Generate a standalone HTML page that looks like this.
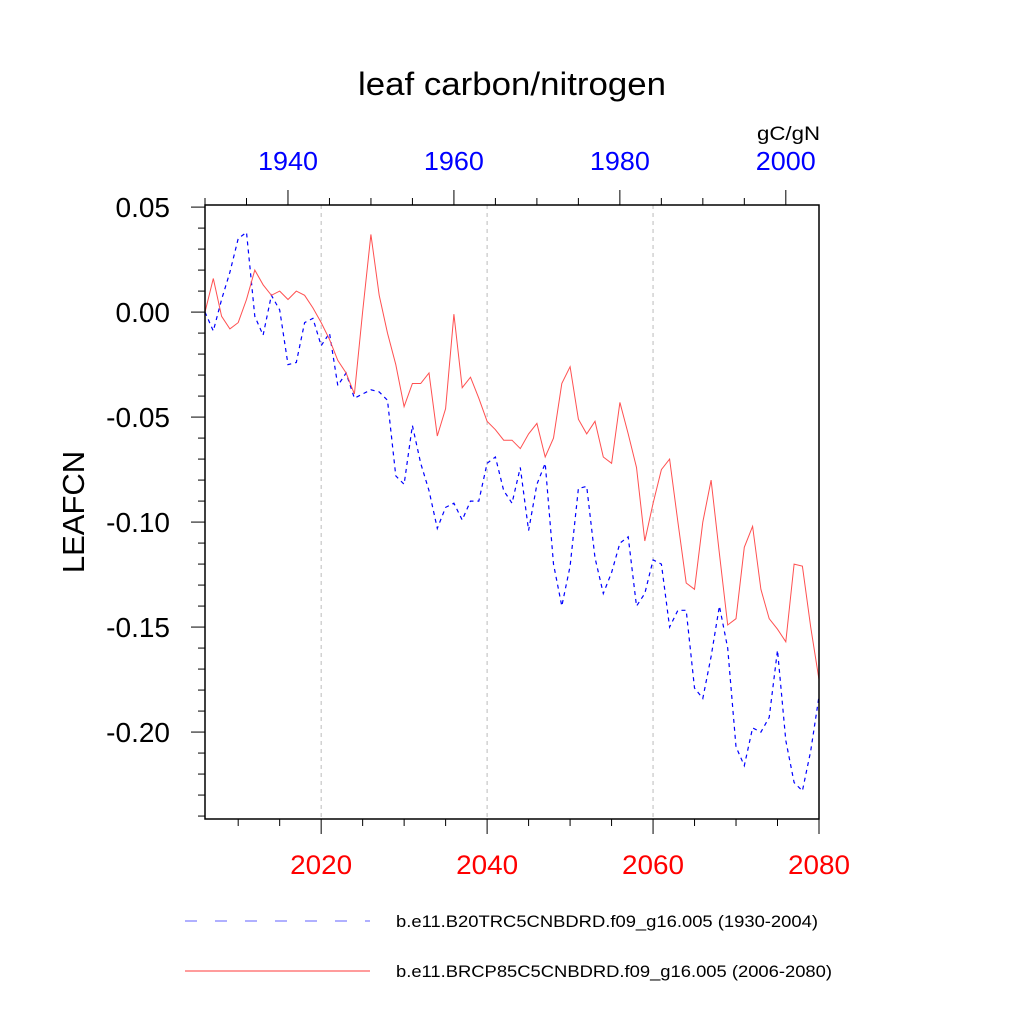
<!DOCTYPE html>
<html><head><meta charset="utf-8"><style>
html,body{margin:0;padding:0;background:#fff;}
svg{display:block;font-family:"Liberation Sans",sans-serif;}
</style></head><body>
<svg id="chart" width="1024" height="1024" viewBox="0 0 1024 1024">
<text x="512" y="95" font-size="32" text-anchor="middle" textLength="308" lengthAdjust="spacingAndGlyphs">leaf carbon/nitrogen</text>
<text x="820" y="140" font-size="19" text-anchor="end" textLength="63" lengthAdjust="spacingAndGlyphs">gC/gN</text>
<text transform="translate(84,512) rotate(-90)" font-size="31" text-anchor="middle">LEAFCN</text>
<g id="grid"></g>
<g id="series"></g>
<rect x="205" y="205" width="614" height="614" fill="none" stroke="#000" stroke-width="1.5"/>
<g id="axes"></g>
<g>
<line x1="185" y1="921" x2="370" y2="921" stroke="#8080ff" stroke-width="1.2" stroke-dasharray="12,18"/>
<text x="396" y="927" font-size="17" textLength="422" lengthAdjust="spacingAndGlyphs">b.e11.B20TRC5CNBDRD.f09_g16.005 (1930-2004)</text>
<line x1="185" y1="971" x2="370" y2="971" stroke="#ff6060" stroke-width="1.2"/>
<text x="396" y="977" font-size="17" textLength="436" lengthAdjust="spacingAndGlyphs">b.e11.BRCP85C5CNBDRD.f09_g16.005 (2006-2080)</text>
</g>
</svg>
<script>
const rcpYearStart = 2006;
const histYearStart = 1930;
const rcpValues = [0.000,0.016,-0.002,-0.008,-0.005,0.006,0.020,0.013,0.008,0.010,0.006,0.010,0.008,0.002,-0.005,-0.013,-0.023,-0.029,-0.039,0.000,0.037,0.008,-0.010,-0.025,-0.045,-0.034,-0.034,-0.029,-0.059,-0.046,-0.001,-0.036,-0.031,-0.041,-0.052,-0.056,-0.061,-0.061,-0.065,-0.058,-0.053,-0.069,-0.060,-0.034,-0.026,-0.051,-0.058,-0.052,-0.069,-0.072,-0.043,-0.058,-0.074,-0.109,-0.091,-0.075,-0.070,-0.100,-0.129,-0.132,-0.100,-0.080,-0.115,-0.149,-0.146,-0.112,-0.102,-0.132,-0.146,-0.151,-0.157,-0.120,-0.121,-0.150,-0.175];
const histValues = [0.000,-0.009,0.006,0.019,0.035,0.038,-0.002,-0.011,0.008,0.001,-0.025,-0.024,-0.005,-0.003,-0.016,-0.010,-0.035,-0.029,-0.041,-0.039,-0.037,-0.038,-0.042,-0.078,-0.082,-0.054,-0.072,-0.085,-0.103,-0.093,-0.091,-0.099,-0.090,-0.090,-0.072,-0.069,-0.085,-0.091,-0.074,-0.104,-0.082,-0.072,-0.120,-0.140,-0.121,-0.084,-0.083,-0.117,-0.134,-0.124,-0.110,-0.107,-0.140,-0.134,-0.118,-0.120,-0.150,-0.142,-0.142,-0.179,-0.184,-0.164,-0.140,-0.160,-0.207,-0.216,-0.198,-0.200,-0.193,-0.161,-0.204,-0.224,-0.228,-0.209,-0.183];
const yTickValues = [0.05,0.00,-0.05,-0.10,-0.15,-0.20];
const yTickLabels = ["0.05","0.00","-0.05","-0.10","-0.15","-0.20"];
const bottomTickYears = [2020,2040,2060,2080];
const topTickYears = [1940,1960,1980,2000];

const NS = "http://www.w3.org/2000/svg";
const L=205,R=819,T=205,B=819;
const yMax=0.051, yMin=-0.2414;
function yScale(v){return T+(yMax-v)/(yMax-yMin)*(B-T);}
function xBottom(yr){return L+(yr-2006)/74*(R-L);}
function xTop(yr){return L+(yr-1930)/74*(R-L);}
function mk(tag,attrs,parent){const e=document.createElementNS(NS,tag);for(const k in attrs)e.setAttribute(k,attrs[k]);parent.appendChild(e);return e;}
const grid=document.getElementById('grid'),series=document.getElementById('series'),axes=document.getElementById('axes');

[2020,2040,2060].forEach(yr=>{
  const g=mk('line',{x1:xBottom(yr),x2:xBottom(yr),y1:T,y2:B,stroke:'#bbb','stroke-width':1,'stroke-dasharray':'4,4'},grid);
  
  
});

function pts(vals,xf,start){return vals.map((v,i)=>xf(start+i).toFixed(1)+','+yScale(v).toFixed(1)).join(' ');}
const hl=mk('polyline',{points:pts(histValues,xTop,histYearStart),fill:'none',stroke:'#0000ff','stroke-width':1.2,'stroke-dasharray':'4,4'},series);


const rl=mk('polyline',{points:pts(rcpValues,xBottom,rcpYearStart),fill:'none',stroke:'#ff5050','stroke-width':1},series);



for(let k=5;k>=-24;k--){
  const v=k/100;const y=yScale(v);const major=(k%5===0);
  const t=mk('line',{x1:L-(major?14:7),x2:L,y1:y,y2:y,stroke:'#000','stroke-width':1},axes);
  
  
}
yTickValues.forEach((v,i)=>{
  const t=mk('text',{x:170,y:yScale(v)+10,'font-size':28,'text-anchor':'end'},axes);
  t.textContent=yTickLabels[i];
  
  
});
for(let yr=2010;yr<=2080;yr+=5){
  const x=xBottom(yr);const major=(yr%20===0);
  const t=mk('line',{x1:x,x2:x,y1:B,y2:B+(major?15:7),stroke:'#000','stroke-width':1},axes);
  
  
}
bottomTickYears.forEach(yr=>{
  const t=mk('text',{x:xBottom(yr),y:874,'font-size':27,'text-anchor':'middle',fill:'#ff0000',textLength:62,lengthAdjust:'spacingAndGlyphs'},axes);
  t.textContent=yr;
  
  
});
for(let yr=1930;yr<=2000;yr+=5){
  const x=xTop(yr);const major=(yr%20===0);
  const t=mk('line',{x1:x,x2:x,y1:T,y2:T-(major?15:7),stroke:'#000','stroke-width':1},axes);
  
  
}
topTickYears.forEach(yr=>{
  const t=mk('text',{x:xTop(yr),y:170,'font-size':26,'text-anchor':'middle',fill:'#0000ff',textLength:60,lengthAdjust:'spacingAndGlyphs'},axes);
  t.textContent=yr;
  
  
});
</script>
</body></html>
